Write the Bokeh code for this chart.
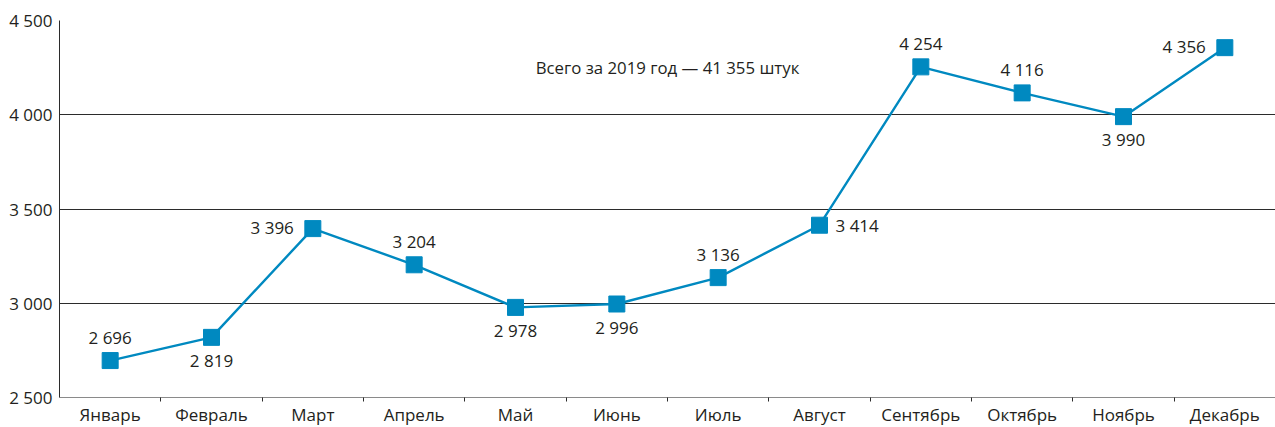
from bokeh.plotting import figure
from bokeh.models import ColumnDataSource, FixedTicker, Range1d, Label
from bokeh.embed import file_html
from bokeh.resources import INLINE

months = ["Январь", "Февраль", "Март", "Апрель", "Май", "Июнь",
          "Июль", "Август", "Сентябрь", "Октябрь", "Ноябрь", "Декабрь"]
counts = [2696, 2819, 3396, 3204, 2978, 2996, 3136, 3414, 4254, 4116, 3990, 4356]
label_pos = ["above", "below", "left", "above", "below", "below",
             "above", "right", "above", "above", "below", "left"]
y_ticks = [2500, 3000, 3500, 4000, 4500]
total_text = "Всего за 2019 год — 41 355 штук"

FONT = "Open Sans"
BLUE = "#0089c0"
TEXT = "#231f20"
FS = "17px"

def fmt(v):
    return f"{v:,}".replace(",", " ")

xs = [i + 0.5 for i in range(len(months))]

p = figure(frame_width=1216, frame_height=377, output_backend="svg", toolbar_location=None,
           x_range=Range1d(0, 12), y_range=Range1d(2500, 4500),
           min_border_left=59, min_border_right=0, min_border_top=20, min_border_bottom=0)
p.outline_line_color = None
p.background_fill_color = "white"

# grid
p.xgrid.visible = False
p.ygrid.ticker = FixedTicker(ticks=y_ticks)
p.ygrid.grid_line_color = "#2b2b2b"
p.ygrid.grid_line_width = 1

# y axis
p.yaxis.ticker = FixedTicker(ticks=y_ticks)
p.yaxis.major_label_overrides = {t: fmt(t) for t in y_ticks}
p.yaxis.major_tick_line_color = None
p.yaxis.major_tick_out = 0
p.yaxis.major_tick_in = 0
p.yaxis.minor_tick_line_color = None
p.yaxis.axis_line_color = "#2b2b2b"
p.yaxis.major_label_text_font = FONT
p.yaxis.major_label_text_font_size = FS
p.yaxis.major_label_text_color = TEXT
p.yaxis.major_label_standoff = 7

# x axis
p.xaxis.ticker = FixedTicker(ticks=xs, minor_ticks=list(range(1, 12)))
p.xaxis.major_label_overrides = {x: m for x, m in zip(xs, months)}
p.xaxis.major_tick_line_color = None
p.xaxis.major_tick_out = 0
p.xaxis.major_tick_in = 0
p.xaxis.minor_tick_line_color = "#2b2b2b"
p.xaxis.minor_tick_out = 4
p.xaxis.minor_tick_in = 0
p.xaxis.axis_line_color = "#8a8a8a"
p.xaxis.major_label_text_font = FONT
p.xaxis.major_label_text_font_size = FS
p.xaxis.major_label_text_color = TEXT
p.xaxis.major_label_standoff = 1

src = ColumnDataSource(dict(x=xs, y=counts))
p.line("x", "y", source=src, line_color=BLUE, line_width=2.4)
p.scatter("x", "y", source=src, marker="square", size=16, fill_color=BLUE, line_color=BLUE)

offsets = {"above": (0, 23, "center"), "below": (0, -23, "center"),
           "left": (-19, 1, "right"), "right": (16, 0, "left")}
for x, v, pos in zip(xs, counts, label_pos):
    dx, dy, align = offsets[pos]
    p.add_layout(Label(x=x, y=v, x_offset=dx, y_offset=dy, text=fmt(v),
                       text_align=align, text_baseline="middle",
                       text_font=FONT, text_font_size=FS, text_color=TEXT))

p.add_layout(Label(x=6.0, y=4250, text=total_text, text_align="center",
                   text_baseline="middle", text_font=FONT,
                   text_font_size="16.8px", text_color=TEXT))

open("out.html", "w").write(file_html(p, INLINE))
